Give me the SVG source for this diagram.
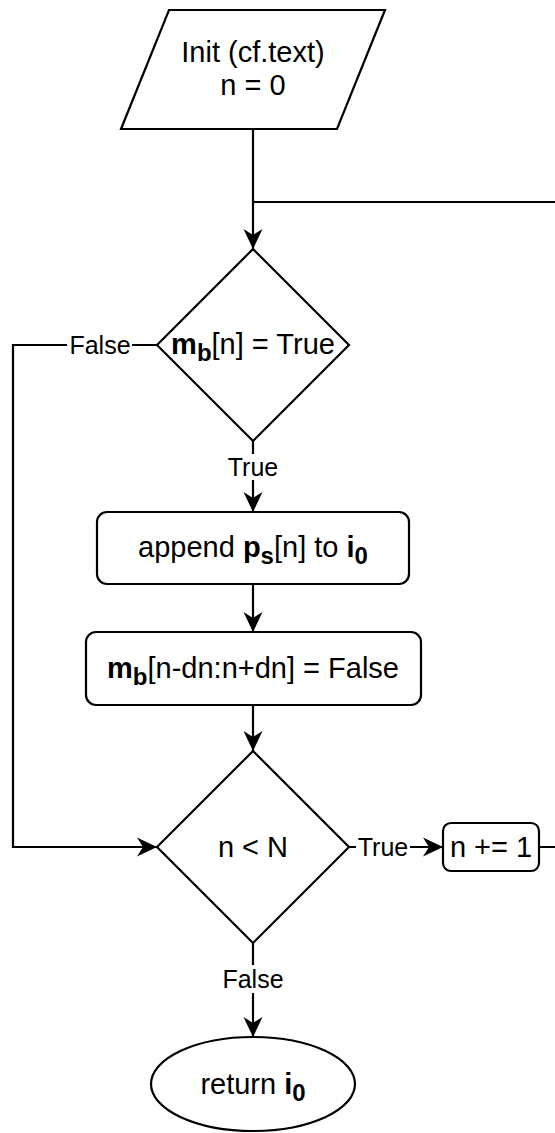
<svg xmlns="http://www.w3.org/2000/svg" width="555" height="1133" viewBox="0 0 555 1133">
<defs>
<marker id="arr" markerUnits="userSpaceOnUse" markerWidth="22" markerHeight="22" viewBox="0 0 22 22" refX="20" refY="11" orient="auto">
<path d="M0,1.5 L20,11 L0,20.5 L6,11 Z" fill="#000"/>
</marker>
<style>
.s{fill:#fff;stroke:#000;stroke-width:2.2}
.c{fill:none;stroke:#000;stroke-width:2.2}
.t{font-family:"Liberation Sans",Arial,Helvetica,sans-serif;font-size:29px;fill:#000;text-anchor:middle}
.l{font-family:"Liberation Sans",Arial,Helvetica,sans-serif;font-size:25px;fill:#000;text-anchor:middle}
.b{font-weight:bold}
.bg{fill:#fff;stroke:none}
</style>
</defs>
<rect width="555" height="1133" fill="#fff"/>
<g id="connectors">
<path class="c" d="M253,129 L253,249" marker-end="url(#arr)"/>
<path class="c" d="M539,847 L580,847 L580,202 L253,202"/>
<path class="c" d="M157,345 L13,345 L13,847 L157,847" marker-end="url(#arr)"/>
<path class="c" d="M253,441 L253,512" marker-end="url(#arr)"/>
<path class="c" d="M253,584 L253,632" marker-end="url(#arr)"/>
<path class="c" d="M253,705 L253,751" marker-end="url(#arr)"/>
<path class="c" d="M349,847 L443,847" marker-end="url(#arr)"/>
<path class="c" d="M253,943 L253,1037" marker-end="url(#arr)"/>
<g id="lbl-false1"><rect class="bg" x="67" y="331" width="65" height="28"/><text class="l" x="100" y="354">False</text></g>
<g id="lbl-true1"><rect class="bg" x="226" y="454" width="54" height="26"/><text class="l" x="253" y="476">True</text></g>
<g id="lbl-true2"><rect class="bg" x="356" y="834" width="54" height="26"/><text class="l" x="383" y="856">True</text></g>
<g id="lbl-false2"><rect class="bg" x="221" y="965" width="65" height="28"/><text class="l" x="253" y="988">False</text></g>
</g>
<g id="init">
<polygon class="s" points="169,10 385,10 337,129 121,129"/>
<text class="t" x="253" y="62">Init (cf.text)</text>
<text class="t" x="253" y="95">n = 0</text>
</g>
<g id="cond1">
<polygon class="s" points="253,249 349,345 253,441 157,345"/>
<text class="t" x="253" y="354"><tspan class="b">m<tspan font-size="24" dy="7">b</tspan></tspan><tspan dy="-7">[n] = True</tspan></text>
</g>
<g id="append">
<rect class="s" x="97" y="512" width="312" height="72" rx="10"/>
<text class="t" x="253" y="557">append <tspan class="b">p<tspan font-size="24" dy="7">s</tspan></tspan><tspan dy="-7">[n] to </tspan><tspan class="b">i<tspan font-size="24" dy="7">0</tspan></tspan></text>
</g>
<g id="mask">
<rect class="s" x="86" y="632" width="335" height="73" rx="10"/>
<text class="t" x="253" y="678"><tspan class="b">m<tspan font-size="24" dy="7">b</tspan></tspan><tspan dy="-7">[n-dn:n+dn] = False</tspan></text>
</g>
<g id="cond2">
<polygon class="s" points="253,751 349,847 253,943 157,847"/>
<text class="t" x="253" y="857">n &lt; N</text>
</g>
<g id="incr">
<rect class="s" x="443" y="823" width="96" height="48" rx="8"/>
<text class="t" x="491" y="857">n += 1</text>
</g>
<g id="ret">
<ellipse class="s" cx="253" cy="1084" rx="102" ry="47"/>
<text class="t" x="253" y="1094">return <tspan class="b">i<tspan font-size="24" dy="7">0</tspan></tspan></text>
</g>
</svg>
